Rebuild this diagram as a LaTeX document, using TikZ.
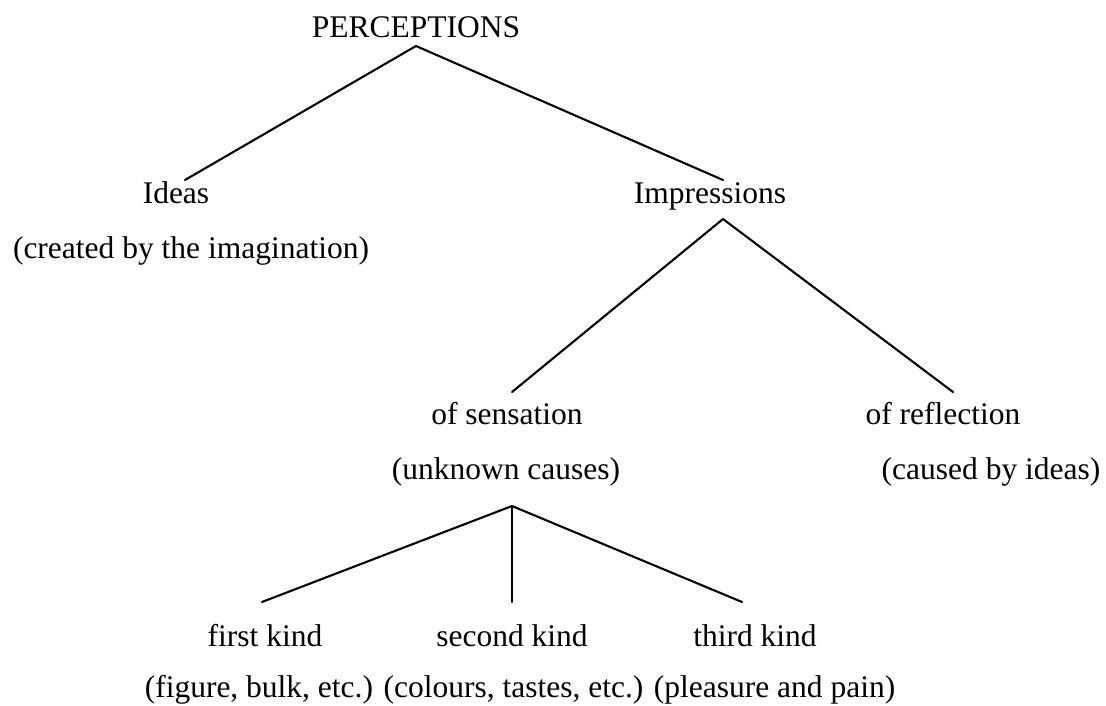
\documentclass[tikz,border=0pt]{standalone}
\usepackage{fontspec}
\setmainfont{Liberation Serif}
\begin{document}
\begin{tikzpicture}[x=1pt,y=-1pt,
  lbl/.style={anchor=base,inner sep=0pt,font=\fontsize{31.5}{36}\selectfont},
  edge/.style={line width=2.1pt,line cap=round,line join=round,black}]
\useasboundingbox[fill=white] (0,0) rectangle (1106,706);
% nodes (x, baseline)
\node[lbl] (perc) at (416,38) {PERCEPTIONS};
\node[lbl] (ideas) at (176,204) {Ideas};
\node[lbl] (created) at (191,258) {(created by the imagination)};
\node[lbl] (impr) at (710,204) {Impressions};
\node[lbl] (sens) at (507,424) {of sensation};
\node[lbl] (unk) at (506,479) {(unknown causes)};
\node[lbl] (refl) at (943,424) {of reflection};
\node[lbl] (caused) at (991,479) {(caused by ideas)};
\node[lbl] (first) at (265,646) {first kind};
\node[lbl] (second) at (512,646) {second kind};
\node[lbl] (third) at (755,646) {third kind};
\node[lbl] (kinds) at (520,697) {(figure, bulk, etc.) (colours, tastes, etc.) (pleasure and pain)};
% connectors
\draw[edge] ([xshift=9pt,yshift=24pt]ideas.base) -- ([yshift=-8pt]perc.base) -- ([xshift=13pt,yshift=24pt]impr.base);
\draw[edge] ([xshift=5pt,yshift=32pt]sens.base) -- ([xshift=13pt,yshift=-15pt]impr.base) -- ([xshift=10pt,yshift=32pt]refl.base);
\draw[edge] ([xshift=-3pt,yshift=44pt]first.base) -- ([xshift=6pt,yshift=-27pt]unk.base) -- ([xshift=-13pt,yshift=44pt]third.base);
\draw[edge] ([xshift=6pt,yshift=-27pt]unk.base) -- ([yshift=44pt]second.base);
\end{tikzpicture}
\end{document}
